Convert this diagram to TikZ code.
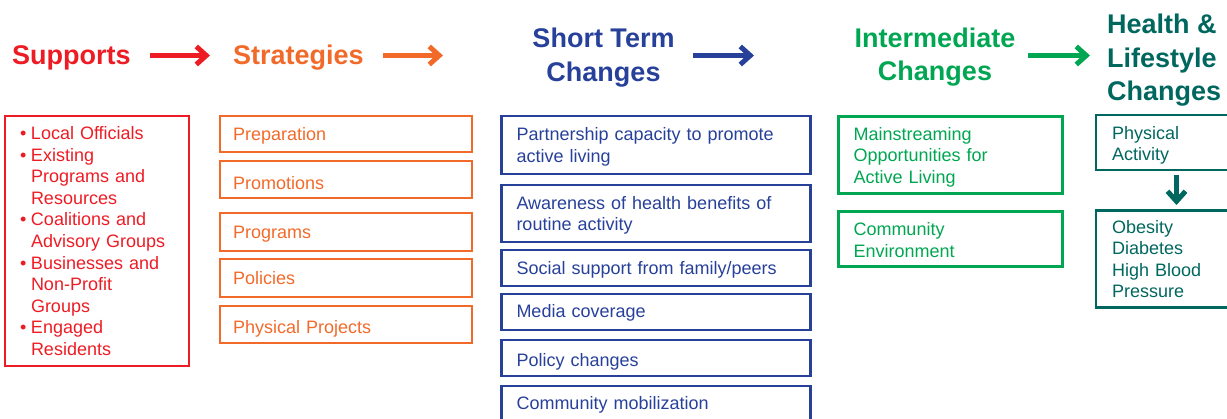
\documentclass[tikz,border=0pt]{standalone}
\usepackage{fontspec}
\setmainfont{Liberation Sans}
\usetikzlibrary{arrows.meta}
\definecolor{cRed}{HTML}{ED1C24}
\definecolor{cOrange}{HTML}{F26A2A}
\definecolor{cBlue}{HTML}{27409A}
\definecolor{cGreen}{HTML}{00A651}
\definecolor{cTeal}{HTML}{00675E}
\tikzset{
  box/.style={draw=#1, text=#1, line width=2.5pt, anchor=north west, align=left,
    outer sep=0pt, inner ysep=0pt, font=\fontsize{18pt}{21.6pt}\selectfont},
  head/.style={text=#1, inner sep=0pt, font=\fontsize{27pt}{33.5pt}\selectfont\bfseries},
  flow/.style={draw=#1, line width=5.5pt, -{Straight Barb[length=10pt,width=18pt,line width=5pt]}},
  one/.style={text height=#1, text depth=0pt},
  supbox/.style={box=cRed, minimum width=184pt, text width=154pt, inner xsep=15pt},
  strbox/.style={box=cOrange, minimum width=252pt, text width=226pt, inner xsep=13pt},
  stbox/.style={box=cBlue, minimum width=309pt, text width=279pt, inner xsep=15pt},
  imbox/.style={box=cGreen, minimum width=224pt, text width=194pt, inner xsep=15pt},
  hlbox/.style={box=cTeal, minimum width=150pt, text width=118pt, inner xsep=16pt},
}
\newcommand{\bul}{\makebox[11pt][l]{•}}
\newcommand{\ind}{\hspace*{11pt}}
\begin{document}
\begin{tikzpicture}[x=1pt,y=-1pt]
\useasboundingbox (0,0) rectangle (1227,419);
\clip (0,0) rectangle (1227,419);
% headers
\node[head=cRed, anchor=base west] (hSup) at (12,65) {Supports};
\node[head=cOrange, anchor=base west] (hStr) at (233,65) {Strategies};
\node[head=cBlue, anchor=base, align=center] (hST) at (603.5,81.5) {Short Term\\Changes};
\node[head=cGreen, anchor=base, align=center] (hIM) at (935,81) {Intermediate\\Changes};
\node[head=cTeal, anchor=base west, align=left] (hHL) at (1107,101) {Health \&\\Lifestyle\\Changes};
% header arrows
\coordinate (a1s) at (150,55.5); \coordinate (a1e) at (210,55.5);
\coordinate (a2s) at (383,55.5); \coordinate (a2e) at (443,55.5);
\coordinate (a3s) at (693,55.5); \coordinate (a3e) at (754,55.5);
\coordinate (a4s) at (1028,55.5); \coordinate (a4e) at (1090,55.5);
\draw[flow=cRed] (a1s) -- (a1e);
\draw[flow=cOrange] (a2s) -- (a2e);
\draw[flow=cBlue] (a3s) -- (a3e);
\draw[flow=cGreen] (a4s) -- (a4e);
% supports
\node[supbox, minimum height=250pt] (sup) at (5,116) {\bul Local Officials\\\bul Existing\\\ind Programs and\\\ind Resources\\\bul Coalitions and\\\ind Advisory Groups\\\bul Businesses and\\\ind Non-Profit\\\ind Groups\\\bul Engaged\\\ind Residents};
% strategies
\node[strbox, minimum height=36pt, one=13.2pt] (s1) at (220,116) {Preparation};
\node[strbox, minimum height=37pt, one=20.2pt] (s2) at (220,161) {Promotions};
\node[strbox, minimum height=38pt, one=12.4pt] (s3) at (220,213) {Programs};
\node[strbox, minimum height=38pt, one=13.4pt] (s4) at (220,259) {Policies};
\node[strbox, minimum height=37pt, one=18.8pt] (s5) at (220,306) {Physical Projects};
% short term
\node[stbox, minimum height=58pt, text depth=21.4pt] (t1) at (501.5,116) {Partnership capacity to promote\\active living};
\node[stbox, minimum height=57pt, text depth=21.4pt] (t2) at (501.5,185) {Awareness of health benefits of\\routine activity};
\node[stbox, minimum height=36pt, one=13.4pt] (t3) at (501.5,250) {Social support from family/peers};
\node[stbox, minimum height=36pt, one=11.4pt] (t4) at (501.5,294) {Media coverage};
\node[stbox, minimum height=36pt, one=17.8pt] (t5) at (501.5,340) {Policy changes};
\node[stbox, minimum height=36pt, one=11.2pt] (t6) at (501.5,386) {Community mobilization};
% intermediate
\node[imbox, minimum height=77pt, text depth=43pt] (m1) at (838.5,116.5) {Mainstreaming\\Opportunities for\\Active Living};
\node[imbox, minimum height=55pt, text depth=19.6pt] (m2) at (838.5,211.5) {Community\\Environment};
% health
\node[hlbox, minimum height=55pt, text depth=19.4pt] (l1) at (1096,115) {Physical\\Activity};
\node[hlbox, minimum height=97pt] (l2) at (1096,210.5) {Obesity\\Diabetes\\High Blood\\Pressure};
\coordinate (d1) at (1176.5,175); \coordinate (d2) at (1176.5,205);
\draw[flow=cTeal] (d1) -- (d2);
\end{tikzpicture}
\end{document}
